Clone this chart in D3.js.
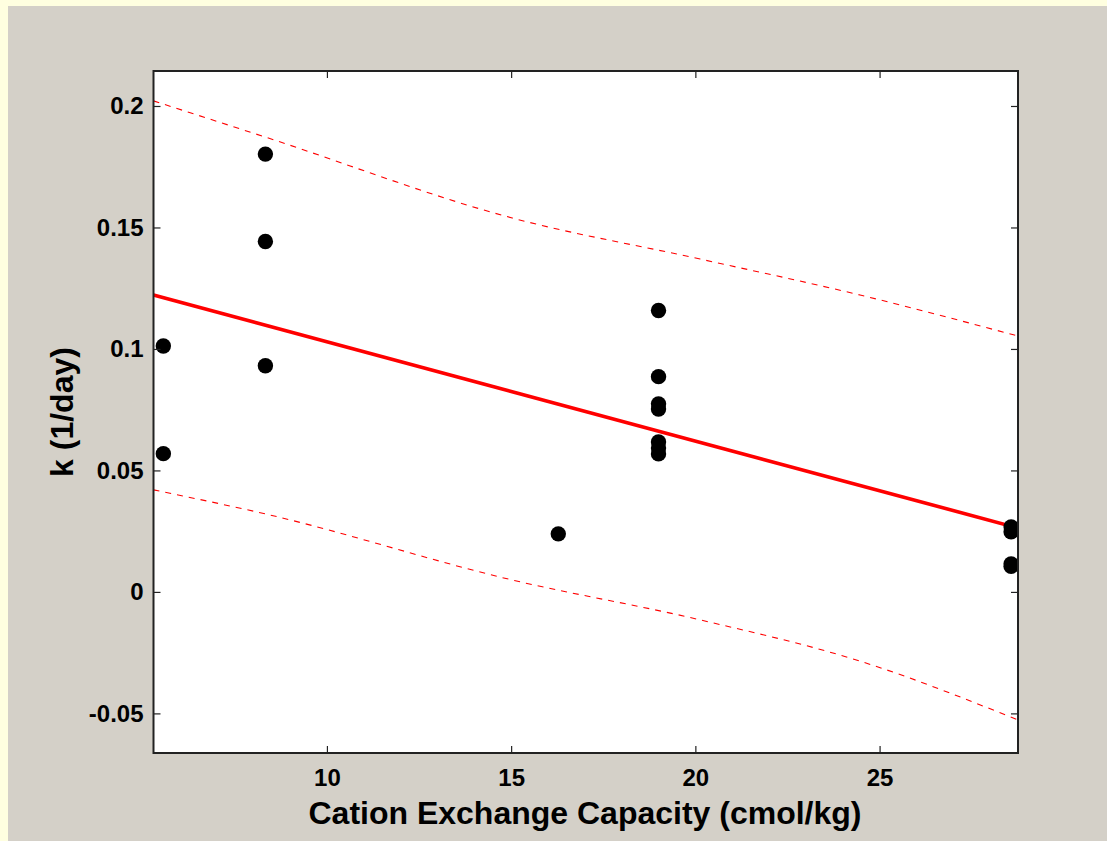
<!DOCTYPE html>
<html><head><meta charset="utf-8">
<script src="https://cdn.jsdelivr.net/npm/d3@7"></script>
<style>
html,body{margin:0;padding:0;background:#ffffe0;}
svg{display:block;}
text{font-family:Arial,"Liberation Sans",sans-serif;font-weight:bold;fill:#000;}
</style></head>
<body>
<svg id="chart" width="1107" height="841"></svg>
<script>
// ---- data ----
const cecValues = [5.56, 5.56, 8.33, 8.33, 8.33, 16.28, 19.0, 19.0, 19.0, 19.0, 19.0, 19.0, 19.0, 28.57, 28.57, 28.57, 28.57];
const kValues   = [0.1012, 0.0569, 0.1802, 0.1442, 0.0931, 0.0239, 0.1158, 0.0886, 0.0774, 0.0753, 0.0617, 0.0592, 0.0568, 0.0267, 0.0247, 0.0115, 0.0105];
const fitX = [5.293, 28.757];
const fitY = [0.1222, 0.0263];
const upperX = [5.293, 8.33, 15.03, 20.13, 24.47, 28.757];
const upperY = [0.2021, 0.1872, 0.1539, 0.1370, 0.1222, 0.1053];
const lowerX = [5.293, 8.33, 15.03, 20.13, 24.47, 28.757];
const lowerY = [0.0420, 0.0321, 0.0049, -0.0115, -0.0285, -0.0527];
const xTicks = [10, 15, 20, 25];
const yTicks = [-0.05, 0, 0.05, 0.1, 0.15, 0.2];
const xDomain = [5.293, 28.757];
const yDomain = [-0.0663, 0.2144];
const xLabel = "Cation Exchange Capacity (cmol/kg)";
const yLabel = "k (1/day)";

// ---- layout ----
const svg = d3.select("#chart");
svg.append("rect").attr("x",8).attr("y",6).attr("width",1107-8).attr("height",841-6).attr("fill","#d4d0c8");
const L=153.5, R=1018, T=71, B=753;
const x = d3.scaleLinear().domain(xDomain).range([L,R]);
const y = d3.scaleLinear().domain(yDomain).range([B,T]);

svg.append("rect").attr("x",L).attr("y",T).attr("width",R-L).attr("height",B-T).attr("fill","#fff");

svg.append("clipPath").attr("id","clip").append("rect")
  .attr("x",L).attr("y",T).attr("width",R-L).attr("height",B-T);

const plot = svg.append("g").attr("clip-path","url(#clip)");

const line = d3.line().x(d=>x(d[0])).y(d=>y(d[1])).curve(d3.curveMonotoneX);
plot.append("path").datum(d3.zip(upperX,upperY)).attr("d",line)
  .attr("fill","none").attr("stroke","#ff0000").attr("stroke-width",1.1).attr("stroke-dasharray","6,6");
plot.append("path").datum(d3.zip(lowerX,lowerY)).attr("d",line)
  .attr("fill","none").attr("stroke","#ff0000").attr("stroke-width",1.1).attr("stroke-dasharray","6,6");

svg.append("g").selectAll("circle").data(d3.zip(cecValues,kValues)).join("circle")
  .attr("cx",d=>x(d[0])).attr("cy",d=>y(d[1])).attr("r",7.7).attr("fill","#000");

plot.append("path").datum(d3.zip(fitX,fitY)).attr("d",d3.line().x(d=>x(d[0])).y(d=>y(d[1])))
  .attr("fill","none").attr("stroke","#ff0000").attr("stroke-width",3.6);

// axes (MATLAB style, inward ticks on all sides)
const tl = 7;
const axB = svg.append("g").attr("transform",`translate(0,${B})`)
  .call(d3.axisBottom(x).tickValues(xTicks).tickSize(-tl).tickPadding(16).tickFormat(d3.format("d")));
const axT = svg.append("g").attr("transform",`translate(0,${T})`)
  .call(d3.axisTop(x).tickValues(xTicks).tickSize(-tl).tickFormat(""));
const axL = svg.append("g").attr("transform",`translate(${L},0)`)
  .call(d3.axisLeft(y).tickValues(yTicks).tickSize(-tl).tickPadding(10).tickFormat(d=>d===0?"0":String(d)));
const axR = svg.append("g").attr("transform",`translate(${R},0)`)
  .call(d3.axisRight(y).tickValues(yTicks).tickSize(-tl).tickFormat(""));
[axB,axT,axL,axR].forEach(a=>{
  a.select(".domain").remove();
  a.selectAll(".tick line").attr("stroke","#222").attr("stroke-width",1.2);
  a.selectAll("text").style("font-size","24px").style("font-weight","bold").attr("fill","#000");
});
svg.append("rect").attr("x",L).attr("y",T).attr("width",R-L).attr("height",B-T)
  .attr("fill","none").attr("stroke","#222").attr("stroke-width",2);

svg.append("text").attr("x",585).attr("y",824).attr("text-anchor","middle")
  .style("font-size","32px").text(xLabel);
svg.append("text").attr("transform",`translate(73,${(T+B)/2}) rotate(-90)`).attr("text-anchor","middle")
  .style("font-size","32px").text(yLabel);
</script>
</body></html>
